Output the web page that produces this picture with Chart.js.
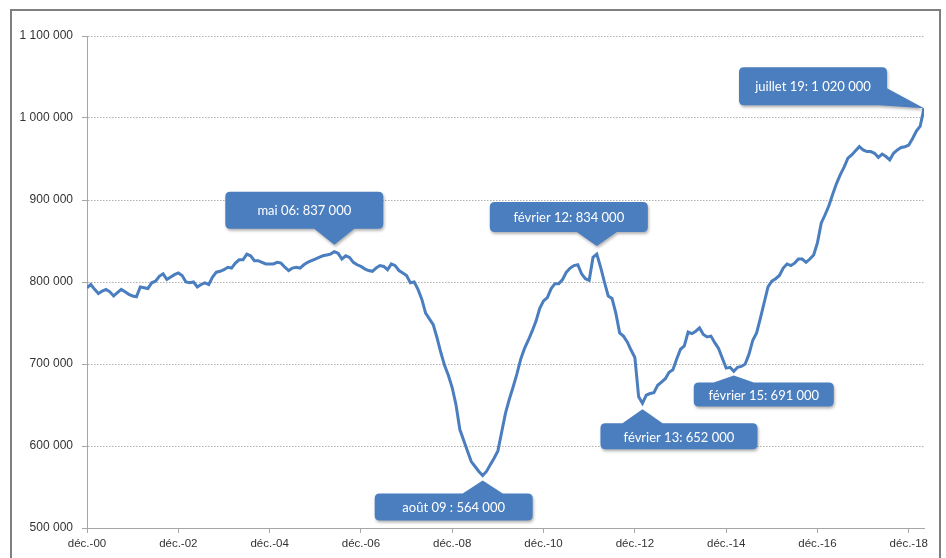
<!DOCTYPE html>
<html lang="fr">
<head>
<meta charset="utf-8">
<title>Demandeurs d'emploi</title>
<script src="https://cdn.jsdelivr.net/npm/chart.js@4/dist/chart.umd.min.js"></script>
<style>
  html, body { margin: 0; padding: 0; background: #fff; }
  canvas { display: block; }
</style>
</head>
<body>
<canvas id="jobsChart" width="946" height="558"></canvas>
<script>
// Monthly values, in thousands, starting december 2000
const MONTHLY_VALUES = [
  793, 797, 791, 786, 789, 791, 788, 783, 787, 791,
  788, 785, 783, 782, 794, 793, 792, 799, 801, 807,
  810, 803, 806, 809, 811, 808, 800, 799, 800, 794,
  797, 799, 797, 806, 812, 813, 815, 818, 817, 823,
  827, 827, 834, 832, 826, 826, 824, 822, 822, 822,
  824, 823, 818, 814, 817, 818, 817, 821, 824, 826,
  828, 830, 832, 833, 834, 837, 835, 828, 832, 830,
  824, 821, 819, 816, 814, 813, 817, 820, 819, 815,
  822, 820, 814, 811, 808, 799, 800, 791, 779, 762,
  755, 748, 732, 714, 698, 686, 671, 650, 620, 607,
  594, 581, 575, 569, 564, 569, 577, 585, 594, 617,
  640, 657, 672, 688, 706, 719, 729, 740, 752, 768,
  777, 781, 792, 798, 798, 803, 812, 817, 820, 821,
  810, 804, 802, 830, 834, 818, 800, 783, 780, 762,
  738, 734, 727, 717, 708, 660, 652, 662, 664, 665,
  674, 678, 682, 690, 693, 706, 718, 722, 739, 737,
  740, 744, 736, 733, 734, 726, 719, 707, 695, 696,
  691, 696, 697, 700, 712, 729, 738, 756, 775, 794,
  801, 804, 808, 817, 822, 820, 823, 828, 828, 824,
  828, 833, 848, 872, 882, 893, 907, 920, 931, 940,
  951, 955, 960, 965, 961, 959, 959, 957, 952, 956,
  953, 949, 957, 961, 964, 965, 967, 975, 984, 990,
  1012
];

// x tick labels, one every 24 months
const X_TICK_LABELS = ['déc.-00', 'déc.-02', 'déc.-04', 'déc.-06', 'déc.-08',
  'déc.-10', 'déc.-12', 'déc.-14', 'déc.-16', 'déc.-18'];
const X_TICK_STEP = 24;

// y axis range
const Y_MIN = 500000;
const Y_MAX = 1100000;
const Y_STEP = 100000;

// Callouts: month index (from déc.-00) and label text
const CALLOUT_MONTHS = [65, 104, 134, 146, 170, 220];
const CALLOUT_LABELS = [
  'mai 06: 837 000',
  'août 09 : 564 000',
  'février 12: 834 000',
  'février 13: 652 000',
  'février 15: 691 000',
  'juillet 19: 1 020 000'
];

const BLUE = '#4a7ebf';

function formatThousands(n) {
  return String(n).replace(/\B(?=(\d{3})+(?!\d))/g, ' ');
}

// box placement relative to the data point (pixels)
const calloutLayout = [
  { dx: -109, dy: -60, w: 158, h: 37, dir: 'down', tip: -7 },
  { dx: -108, dy: 18, w: 158, h: 27, dir: 'up', tip: 5 },
  { dx: -107, dy: -52, w: 158, h: 30, dir: 'down', tip: -8 },
  { dx: -42, dy: 20, w: 157, h: 26, dir: 'up', tip: 6 },
  { dx: -40, dy: 11, w: 140, h: 24, dir: 'up', tip: 4 },
  { dx: -185, dy: -41, w: 148, h: 38, dir: 'right', tip: 0 }
];

// rounded box with its pointer, as one outline so the shadow is drawn once
function calloutPath(ctx, x, y, w, h, r, lay, px, tipY) {
  const b = y + h;
  ctx.beginPath();
  ctx.moveTo(x + r, y);
  if (lay.dir === 'up') {
    ctx.lineTo(px - 20, y);
    ctx.lineTo(px, tipY);
    ctx.lineTo(px + 20, y);
  }
  ctx.lineTo(x + w - r, y);
  ctx.quadraticCurveTo(x + w, y, x + w, y + r);
  if (lay.dir === 'right') {
    ctx.lineTo(x + w, y + 21);
    ctx.lineTo(px, tipY);
    ctx.lineTo(x + w - 8, b);
  } else {
    ctx.lineTo(x + w, b - r);
    ctx.quadraticCurveTo(x + w, b, x + w - r, b);
  }
  if (lay.dir === 'down') {
    ctx.lineTo(px + 20, b);
    ctx.lineTo(px, tipY);
    ctx.lineTo(px - 20, b);
  }
  ctx.lineTo(x + r, b);
  ctx.quadraticCurveTo(x, b, x, b - r);
  ctx.lineTo(x, y + r);
  ctx.quadraticCurveTo(x, y, x + r, y);
  ctx.closePath();
}

const calloutPlugin = {
  id: 'callouts',
  afterDatasetsDraw(chart) {
    const ctx = chart.ctx;
    const xs = chart.scales.x;
    const ys = chart.scales.y;
    CALLOUT_MONTHS.forEach((m, i) => {
      const lay = calloutLayout[i];
      const px = xs.getPixelForValue(m);
      const py = ys.getPixelForValue(MONTHLY_VALUES[m] * 1000);
      const bx = px + lay.dx;
      const by = py + lay.dy;

      ctx.save();
      ctx.shadowColor = 'rgba(0, 0, 0, 0.3)';
      ctx.shadowBlur = 3;
      ctx.shadowOffsetX = 1;
      ctx.shadowOffsetY = 2;
      ctx.fillStyle = BLUE;
      calloutPath(ctx, bx, by, lay.w, lay.h, 5, lay, px, py + lay.tip);
      ctx.fill();
      ctx.restore();

      ctx.save();
      ctx.fillStyle = '#ffffff';
      ctx.font = '13px Lato, "Liberation Sans", sans-serif';
      ctx.textAlign = 'center';
      ctx.textBaseline = 'middle';
      ctx.fillText(CALLOUT_LABELS[i], bx + lay.w / 2, by + lay.h / 2 + 1);
      ctx.restore();
    });
  }
};

const framePlugin = {
  id: 'frame',
  afterDraw(chart) {
    const ctx = chart.ctx;
    ctx.save();
    ctx.strokeStyle = '#7f7f7f';
    ctx.lineWidth = 2;
    ctx.strokeRect(11, 10, 929, 560);
    ctx.restore();
  }
};

new Chart(document.getElementById('jobsChart'), {
  type: 'line',
  data: {
    datasets: [{
      data: MONTHLY_VALUES.map((v, i) => ({ x: i, y: v * 1000 })),
      borderColor: BLUE,
      borderWidth: 3,
      pointRadius: 0,
      tension: 0,
      fill: false
    }]
  },
  options: {
    responsive: false,
    animation: false,
    layout: { padding: { top: 36, right: 22, bottom: 0, left: 0 } },
    plugins: {
      legend: { display: false },
      tooltip: { enabled: false }
    },
    scales: {
      x: {
        type: 'linear',
        min: 0,
        max: MONTHLY_VALUES.length - 1,
        afterFit(scale) { scale.height = 30; },
        grid: {
          drawOnChartArea: false,
          drawTicks: true,
          tickLength: 5,
          tickColor: '#a6a6a6'
        },
        border: { display: true, color: '#a6a6a6', width: 1 },
        ticks: {
          stepSize: X_TICK_STEP,
          includeBounds: false,
          autoSkip: false,
          maxRotation: 0,
          padding: 4,
          color: '#333',
          font: { family: '"Liberation Sans", Arial, sans-serif', size: 11.5 },
          callback: (v) => X_TICK_LABELS[v / X_TICK_STEP] || ''
        }
      },
      y: {
        min: Y_MIN,
        max: Y_MAX,
        afterFit(scale) { scale.width = 87; },
        grid: {
          color: '#b0b0b0',
          lineWidth: 1,
          tickLength: 5,
          tickColor: '#a6a6a6'
        },
        border: { display: true, color: '#a6a6a6', width: 1, dash: [1.5, 1.5] },
        ticks: {
          stepSize: Y_STEP,
          padding: 9,
          color: '#333',
          font: { family: '"Liberation Sans", Arial, sans-serif', size: 12 },
          callback: (v) => formatThousands(v)
        }
      }
    }
  },
  plugins: [calloutPlugin, framePlugin]
});
</script>
</body>
</html>
